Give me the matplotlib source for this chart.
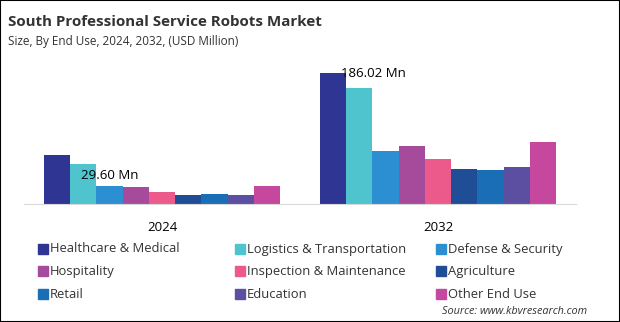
import numpy as np
import matplotlib.pyplot as plt
from matplotlib.patches import Rectangle

plt.rcParams['font.family'] = ['Open Sans', 'DejaVu Sans']

years = ['2024', '2032']
segments = ['Healthcare & Medical', 'Logistics & Transportation', 'Defense & Security',
            'Hospitality', 'Inspection & Maintenance', 'Agriculture',
            'Retail', 'Education', 'Other End Use']
values_2024 = [69.4, 56.7, 25.9, 24.1, 17.0, 12.7, 14.6, 12.7, 25.9]
values_2032 = [186.02, 164.3, 75.5, 82.2, 63.7, 49.6, 48.2, 52.4, 87.8]
bar_labels = ['29.60 Mn', '186.02 Mn']
colors = ['#2e3592', '#4fc4cf', '#2b8fd2', '#a64b9c', '#eb5a8a',
          '#1f4e96', '#1a6eb6', '#5c4ea1', '#c5479e']

W, H = 620, 322
fig = plt.figure(figsize=(W / 100, H / 100), dpi=100)
fig.patches.append(Rectangle((0, 0), 1, 1, transform=fig.transFigure,
                             fill=False, edgecolor='black', linewidth=1.5))

ax = fig.add_axes([24 / W, (H - 204) / H, 552 / W, 144 / H])
data = np.array([values_2024, values_2032])
x = np.arange(len(years))
n = len(segments)
group_w = 0.855
bw = group_w / n
for i, seg in enumerate(segments):
    ax.bar(x - group_w / 2 + bw * (i + 0.5), data[:, i], width=bw,
           color=colors[i], label=seg)

ax.set_xlim(-0.5, 1.5)
ax.set_ylim(0, 204)
ax.set_xticks(x)
ax.set_xticklabels(years, fontsize=9.5)
ax.tick_params(axis='x', length=0, pad=12)
ax.set_yticks([])
for s in ['top', 'right', 'left']:
    ax.spines[s].set_visible(False)
ax.spines['bottom'].set_color('#d9d9d9')

# value labels
ax.text(x[0] - group_w / 2 + bw * 1.4, 40, bar_labels[0], fontsize=9.5,
        va='center', ha='left')
ax.text(x[1] - group_w / 2 + bw * 0.8, 185, bar_labels[1], fontsize=9.5,
        va='center', ha='left')

fig.text(8 / W, 1 - 22 / H, 'South Professional Service Robots Market',
         fontsize=10.9, fontweight='bold', color='#333333', va='center')
fig.text(8 / W, 1 - 42 / H, 'Size, By End Use, 2024, 2032, (USD Million)',
         fontsize=8.5, color='#333333', va='center')

# legend
col_x = [38, 235, 436]
row_y = [249, 271, 294]
for i, seg in enumerate(segments):
    cx = col_x[i % 3]
    cy = row_y[i // 3]
    fig.patches.append(Rectangle((cx / W, 1 - (cy + 5) / H), 10 / W, 10 / H,
                                 transform=fig.transFigure, color=colors[i]))
    fig.text((cx + 12) / W, 1 - cy / H, seg, fontsize=9.4, color='#333333',
             va='center')

fig.text(442 / W, 1 - 312 / H, 'Source: www.kbvresearch.com', fontsize=7.8,
         style='italic', color='#333333', ha='left', va='center')

fig.savefig('out.png', dpi=100)
